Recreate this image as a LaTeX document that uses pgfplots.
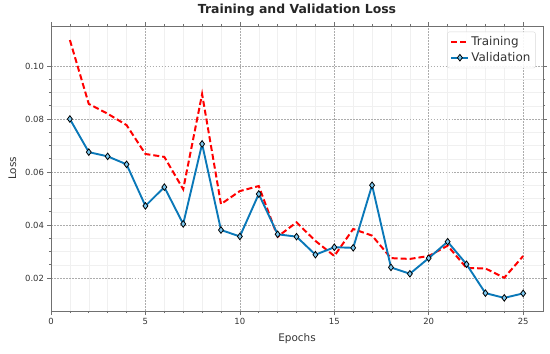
\documentclass[border=0pt]{standalone}
\usepackage{pgfplots}
\pgfplotsset{compat=1.18}
\usepackage{fontspec}
\setmainfont{DejaVu Sans}
\definecolor{valblue}{HTML}{0A78B8}
\definecolor{valfill}{HTML}{7CC8F0}
\definecolor{spine}{HTML}{707070}
\definecolor{txt}{HTML}{333333}
\begin{document}
\begin{tikzpicture}
\begin{axis}[
  name=ax,
  scale only axis,
  width=492bp, height=285bp,
  xmin=0, xmax=26.05,
  ymin=0.00755, ymax=0.1151,
  xtick={0,5,10,15,20,25},
  ytick={0.02,0.04,0.06,0.08,0.10},
  yticklabels={0.02,0.04,0.06,0.08,0.10},
  minor x tick num=4,
  minor y tick num=3,
  tick align=outside,
  major tick length=3.5bp,
  minor tick length=2bp,
  tick style={spine, line width=0.6pt},
  axis line style={spine, line width=0.9pt},
  grid=both,
  major grid style={gray!65, dash pattern=on 1.8pt off 1.2pt, line width=0.5pt},
  minor grid style={gray!12, line width=0.4pt},
  /pgf/number format/assume math mode=true,
  ticklabel style={font=\fontsize{8.5}{10}\selectfont, text=txt},
  xlabel={Epochs}, ylabel={Loss},
  label style={font=\fontsize{10.5}{12}\selectfont, text=txt},
  xlabel style={yshift=-2bp},
  ylabel style={yshift=2bp},
  title={\bfseries Training and Validation Loss},
  title style={font=\fontsize{12.5}{14}\selectfont, text=black!85, yshift=0bp},
  legend pos=north east,
  legend style={font=\fontsize{12}{14}\selectfont, text=txt, draw=gray!30, rounded corners=2pt, fill=white, fill opacity=0.9, text opacity=1, inner sep=3bp, row sep=1pt, at={(0.985,0.98)}, anchor=north east},
  legend cell align=left,
]
\addplot[color=red, dashed, line width=2pt, dash pattern=on 6pt off 3pt] coordinates {
(1,0.1098) (2,0.0857) (3,0.0820) (4,0.0777) (5,0.0668) (6,0.0657) (7,0.0535) (8,0.0894) (9,0.0479) (10,0.0528) (11,0.0547) (12,0.0356) (13,0.0410) (14,0.0340) (15,0.0283) (16,0.0385) (17,0.0360) (18,0.0275) (19,0.0272) (20,0.0283) (21,0.0322) (22,0.0238) (23,0.0236) (24,0.0201) (25,0.0283)
};
\addlegendentry{Training}
\addplot[color=valblue, line width=1.9pt, mark=diamond*, mark size=3.3pt, mark options={fill=valfill, draw=black, line width=0.8pt, solid}] coordinates {
(1,0.0800) (2,0.0675) (3,0.0659) (4,0.0629) (5,0.0472) (6,0.0543) (7,0.0404) (8,0.0706) (9,0.0381) (10,0.0357) (11,0.0517) (12,0.0365) (13,0.0356) (14,0.0288) (15,0.0316) (16,0.0314) (17,0.0550) (18,0.0240) (19,0.0216) (20,0.0275) (21,0.0337) (22,0.0252) (23,0.0143) (24,0.0125) (25,0.0142)
};
\addlegendentry{Validation}
\end{axis}
\path[use as bounding box] ([shift={(-51bp,-43bp)}]ax.south west) rectangle ([shift={(7bp,26bp)}]ax.north east);
\end{tikzpicture}
\end{document}
